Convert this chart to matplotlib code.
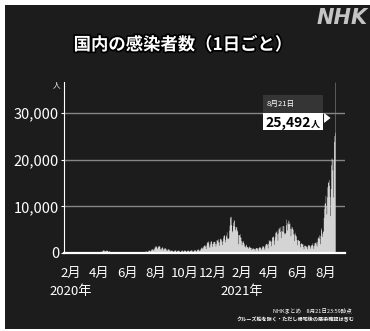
import numpy as np
import pandas as pd
import matplotlib
matplotlib.use("Agg")
import matplotlib.pyplot as plt
import matplotlib.dates as mdates
import matplotlib.patheffects as pe
from matplotlib.patches import Rectangle, Polygon
from matplotlib.transforms import blended_transform_factory

plt.rcParams['font.family'] = ['Liberation Sans Narrow', 'Noto Sans CJK JP', 'DejaVu Sans']

# 国内の新規感染者数（1日ごと）2020/1/16 - 2021/8/21
jan20 = [1, 0, 0, 0, 0, 0, 0, 1, 1, 1, 0, 2, 1, 3, 1, 4]
feb20 = [2, 0, 0, 0, 0, 0, 0, 0, 0, 0, 0, 1, 4, 8, 11, 7, 4, 4, 2, 5, 14, 12, 4, 12, 13, 15, 25, 20, 9]
mar20 = [14, 14, 15, 33, 33, 59, 47, 33, 26, 54, 52, 56, 42, 57, 37, 15, 44, 39, 36, 49,
         55, 42, 39, 65, 93, 96, 112, 200, 176, 87, 225]
apr20 = [266, 236, 351, 368, 383, 255, 351, 514, 575, 708, 720, 507, 386, 457, 549, 585, 560, 584, 568, 372,
         344, 436, 442, 356, 346, 201, 174, 263, 210, 170]
may20 = [278, 300, 201, 175, 123, 96, 103, 108, 98, 58, 55, 84, 61, 99, 57, 44, 22, 31, 40, 34,
         30, 27, 23, 26, 21, 30, 38, 50, 41, 45, 40]
jun20 = [36, 51, 41, 39, 48, 44, 47, 38, 41, 45, 40, 61, 42, 72, 74, 38, 40, 41, 68, 56,
         57, 48, 58, 96, 82, 105, 100, 112, 86, 117]
jul20 = [126, 195, 250, 273, 209, 167, 207, 192, 355, 430, 384, 408, 256, 336, 445, 622, 594, 662, 509, 418,
         631, 795, 981, 779, 841, 835, 598, 982, 1264, 1301, 1580]
aug20 = [1536, 1331, 958, 1236, 1356, 1485, 1605, 1565, 1442, 1009, 700, 985, 1176, 1362, 1233, 1013, 643, 910,
         1079, 1182, 1034, 1006, 742, 487, 691, 879, 875, 857, 823, 599, 442]
sep20 = [634, 589, 625, 602, 564, 436, 271, 508, 503, 651, 641, 636, 436, 294, 535, 507, 588, 602, 609, 424,
         355, 301, 283, 542, 637, 645, 458, 281, 494, 591]
oct20 = [613, 600, 591, 404, 280, 496, 557, 631, 621, 525, 453, 242, 548, 604, 703, 620, 621, 427, 314, 423,
         615, 607, 698, 738, 516, 373, 564, 699, 796, 803, 864]
nov20 = [625, 482, 843, 650, 1038, 1141, 1333, 1168, 917, 1299, 1547, 1660, 1704, 1737, 1439, 950, 1699, 2201,
         2386, 2427, 2596, 2165, 1516, 1227, 1946, 2506, 2508, 2684, 2066, 1430]
dec20 = [2029, 2433, 2516, 2439, 2509, 2076, 1500, 2025, 2806, 2810, 2788, 3041, 2388, 1680, 2402, 3211, 3056,
         2995, 2997, 2487, 1809, 2660, 3271, 3742, 3831, 3881, 2947, 2395, 3604, 3852, 4520]
jan21 = [3260, 3059, 3128, 3325, 4915, 5946, 7570, 7882, 7790, 6094, 4876, 4539, 5875, 6605, 7133, 7014, 5759,
         4926, 5320, 5687, 5654, 4927, 4712, 3988, 1987, 3859, 3965, 4131, 3531, 3342, 2673]
feb21 = [1792, 2324, 2631, 2576, 2290, 1997, 1528, 1285, 1555, 1713, 1880, 1359, 1357, 1291, 1029, 1305, 1530,
         1310, 1229, 1234, 1188, 740, 895, 1072, 1071, 1063, 993, 935]
mar21 = [628, 936, 1185, 1165, 1149, 1067, 1064, 611, 1124, 1300, 1293, 1317, 1255, 1054, 735, 1126, 1498, 1519,
         1466, 1525, 1119, 801, 1513, 1909, 2040, 1999, 2051, 1782, 1083, 2069, 2842]
apr21 = [2590, 2773, 2756, 2464, 1555, 2646, 3451, 3446, 3489, 3696, 2777, 1884, 3443, 4302, 4561, 4521, 4798,
         4095, 2774, 4324, 5290, 5502, 5120, 5598, 4606, 3301, 4839, 5830, 4700, 4685]
may21 = [5906, 5858, 4398, 4076, 4230, 4402, 6055, 7243, 6478, 4924, 6287, 7057, 6870, 6263, 6416, 5287, 3679,
         5218, 5709, 5565, 5292, 5040, 4109, 2651, 4084, 4426, 3996, 3785, 3643, 2893, 1762]
jun21 = [2851, 2924, 2744, 2676, 2662, 2006, 1320, 2145, 2171, 2053, 1940, 1952, 1391, 939, 1614, 1725, 1664,
         1568, 1551, 1320, 902, 1425, 1766, 1731, 1745, 1717, 1487, 1051, 1514, 1755]
jul21 = [1824, 1802, 2212, 1576, 1000, 1643, 2192, 2270, 2223, 2521, 1987, 1502, 2387, 3194, 3433, 3417, 3883,
         3103, 1999, 3758, 5020, 5393, 4223, 3574, 4692, 4692, 7629, 9576, 10699, 10744, 12341]
aug21 = [10167, 8397, 12016, 14207, 15263, 15136, 15753, 14472, 12076, 7999, 13793, 18889, 20366, 20151, 17814,
         12009, 19955, 23917, 25146, 25876, 25492]

cases = (jan20 + feb20 + mar20 + apr20 + may20 + jun20 + jul20 + aug20 + sep20 + oct20 + nov20 + dec20
         + jan21 + feb21 + mar21 + apr21 + may21 + jun21 + jul21 + aug21)
days = pd.date_range("2020-01-16", periods=len(cases), freq="D")

tick_dates = ["2020-02-01", "2020-04-01", "2020-06-01", "2020-08-01", "2020-10-01", "2020-12-01",
              "2021-02-01", "2021-04-01", "2021-06-01", "2021-08-01"]
tick_labels = ["2月", "4月", "6月", "8月", "10月", "12月", "2月", "4月", "6月", "8月"]
year_dates = ["2020-02-01", "2021-02-01"]
year_labels = ["2020年", "2021年"]
y_ticks = [0, 10000, 20000, 30000]

W, H = 370, 331
BG = "#1c1c1c"


def fx(px):
    return px / W


def fy(py):
    return 1 - py / H


fig = plt.figure(figsize=(W / 100, H / 100), dpi=100, facecolor="white")
fig.patches.append(Rectangle((fx(5), fy(329)), fx(365), 324 / H, transform=fig.transFigure,
                             facecolor=BG, edgecolor="none", zorder=-10))

ax = fig.add_axes([fx(64), fy(253), fx(345 - 64), (253 - 82) / H])
ax.set_facecolor("none")

x = mdates.date2num(days)
ax.fill_between(x, cases, step="mid", color="#d4d4d4", lw=0, zorder=2)

last_x, last_y = x[-1], cases[-1]
ymax = 36640
ax.vlines(last_x, last_y, ymax, color="#5a5a5a", lw=0.7, zorder=1)

ax.set_xlim(mdates.date2num(pd.Timestamp("2020-01-17")), mdates.date2num(pd.Timestamp("2021-09-11")))
ax.set_ylim(0, ymax)

for v in y_ticks[1:]:
    ax.axhline(v, color="#858585", lw=1.0, zorder=1)

ax.set_yticks(y_ticks)
ax.set_yticklabels([f"{v:,}" for v in y_ticks], color="white", fontsize=10.5)
ax.tick_params(axis="y", length=2.5, width=0.8, color="white", pad=1)
ax.set_xticks(mdates.date2num(pd.to_datetime(tick_dates)))
ax.set_xticklabels(tick_labels, color="white", fontsize=9.5)
ax.tick_params(axis="x", length=0, pad=10)

# 年のラベルは2月の下に
trans = blended_transform_factory(ax.transData, ax.transAxes)
for d, lab in zip(year_dates, year_labels):
    ax.text(mdates.date2num(pd.Timestamp(d)), -0.225, lab, transform=trans, color="white",
            fontsize=9.5, ha="center", va="center")

for side in ["top", "right"]:
    ax.spines[side].set_visible(False)
ax.spines["left"].set_color("white")
ax.spines["left"].set_linewidth(0.8)
ax.spines["bottom"].set_color("white")
ax.spines["bottom"].set_linewidth(1.6)
ax.spines["bottom"].set_zorder(3)

fig.text(fx(57), fy(85), "人", color="white", fontsize=5.5, ha="center", va="center")

# 最新日の値ラベル
last_day = days[-1]
box_l, box_r = last_x - 154, last_x - 26
ax.add_patch(Rectangle((box_l, 30000), box_r - box_l, 3860, facecolor="#353535", edgecolor="none", zorder=4))
ax.add_patch(Rectangle((box_l, 26350), box_r - box_l, 3650, facecolor="white", edgecolor="none", zorder=4))
ax.add_patch(Polygon([(last_x - 24, 30000), (last_x - 24, 27860), (last_x - 10, 28930)],
                     closed=True, facecolor="white", edgecolor="none", zorder=4))
ax.text(box_l + 6, 31950, f"{last_day.month}月{last_day.day}日", color="white", fontsize=5.5,
        ha="left", va="center", zorder=5)
ax.text(last_x - 52, 27000, f"{last_y:,}", color="black", fontsize=10, fontweight="bold",
        ha="right", va="baseline", zorder=5)
ax.text(last_x - 52, 27000, "人", color="black", fontsize=6.5, fontweight="bold",
        ha="left", va="baseline", zorder=5)

fig.text(fx(183), fy(45), "国内の感染者数（1日ごと）", color="white", fontsize=12.5, fontweight="bold",
         family=["Noto Sans CJK JP"], ha="center", va="center",
         path_effects=[pe.withStroke(linewidth=2.5, foreground="black")])
fig.text(fx(368), fy(18), "NHK", color="#c4c4c4", fontsize=15, fontweight="bold", style="italic",
         family=["Liberation Sans Narrow", "DejaVu Sans"], ha="right", va="center")

fig.text(fx(352), fy(310), f"NHKまとめ　{last_day.month}月{last_day.day}日23:59時点", color="white",
         fontsize=4, ha="right", va="center")
fig.text(fx(355), fy(320), "クルーズ船を除く・ただし帰宅後の感染確認は含む", color="white",
         fontsize=3.7, fontweight="bold", ha="right", va="center")

fig.savefig("out.png", dpi=100, facecolor=fig.get_facecolor())
